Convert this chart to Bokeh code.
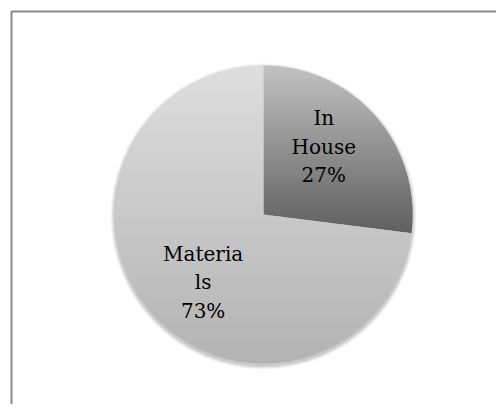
import numpy as np
from bokeh.plotting import figure
from bokeh.models import Range1d, BoxAnnotation
from bokeh.core.properties import value
from bokeh.embed import file_html
from bokeh.resources import INLINE

# ---- data ----
categories = ["In House", "Materials"]
shares = [27, 73]
wrapped_names = ["In\nHouse", "Materia\nls"]   # as wrapped in the original chart
top_grey = [194, 222]      # gradient start (top of slice)
bottom_grey = [95, 179]    # gradient end (bottom of slice)

# ---- layout ----
W, H = 496, 404
CX, CY, R = 263, H - 214, 149
LABEL_R = 0.61
LABEL_TURN = np.deg2rad(7)

p = figure(width=W, height=H, x_range=Range1d(0, W), y_range=Range1d(0, H),
           output_backend="svg", toolbar_location=None, min_border=0,
           x_axis_location=None, y_axis_location=None)
p.grid.visible = False
p.outline_line_color = None
p.background_fill_color = "white"
p.border_fill_color = "white"

# chart-area frame (only its left and top edges fall inside the picture)
p.add_layout(BoxAnnotation(left=11, right=W + 20, bottom=-20, top=H - 11,
                           fill_color=None, fill_alpha=0,
                           line_color="#8a8a8a", line_alpha=1.0, line_width=2))

# soft shadow
for k, a in [(4, 0.04), (3, 0.05), (2, 0.06), (1, 0.07)]:
    p.circle(x=[CX], y=[CY - 2], radius=R + k, fill_color="black", fill_alpha=a,
             line_color=None)

vals = np.array(shares, dtype=float)
frac = vals / vals.sum()
starts = np.pi / 2 - 2 * np.pi * np.concatenate([[0], np.cumsum(frac)[:-1]])
ends = starts - 2 * np.pi * frac


def clip(poly, yc, keep_above):
    out = []
    n = len(poly)
    for i in range(n):
        a = poly[i]
        b = poly[(i + 1) % n]
        ina = a[1] >= yc if keep_above else a[1] <= yc
        inb = b[1] >= yc if keep_above else b[1] <= yc
        if ina:
            out.append(a)
        if ina != inb:
            t = (yc - a[1]) / (b[1] - a[1])
            out.append((a[0] + t * (b[0] - a[0]), yc))
    return out


xs_all, ys_all, cols = [], [], []
for s, e, tg, bg in zip(starts, ends, top_grey, bottom_grey):
    th = np.linspace(s, e, 240)
    poly = [(CX, CY)] + [(CX + R * np.cos(t), CY + R * np.sin(t)) for t in th]
    ys_poly = [pt[1] for pt in poly]
    ytop, ybot = max(ys_poly), min(ys_poly)
    step = 2.0
    y = ybot
    while y < ytop:
        band = clip(clip(poly, y, True), min(y + step + 0.8, ytop), False)
        if len(band) >= 3:
            t = (ytop - (y + step / 2)) / (ytop - ybot)
            t = min(max(t, 0), 1)
            g = int(round(tg + (bg - tg) * t))
            xs_all.append([pt[0] for pt in band])
            ys_all.append([pt[1] for pt in band])
            cols.append("#%02x%02x%02x" % (g, g, g))
        y += step

p.patches(xs=xs_all, ys=ys_all, fill_color=cols, line_color=None)

mids = (starts + ends) / 2 + LABEL_TURN
lx = CX + LABEL_R * R * np.cos(mids)
ly = CY + LABEL_R * R * np.sin(mids)
labels = [f"{n}\n{v}%" for n, v in zip(wrapped_names, shares)]
p.text(x=lx, y=ly, text=labels, text_align="center", text_baseline="middle",
       text_font=value("DejaVu Serif"), text_font_size="20px",
       text_line_height=1.2, text_color="black")

open("out.html", "w").write(file_html(p, INLINE))
